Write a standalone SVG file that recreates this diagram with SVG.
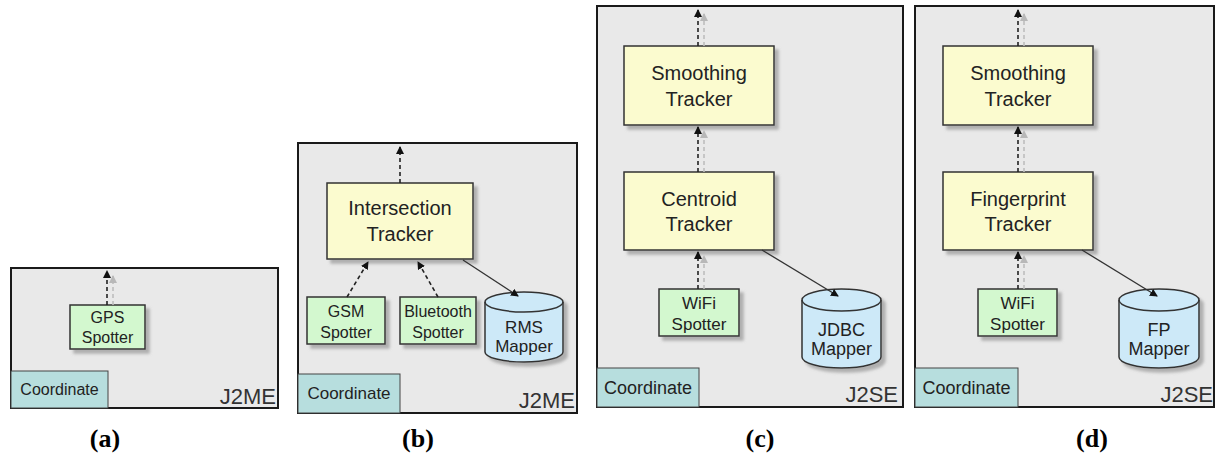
<svg xmlns="http://www.w3.org/2000/svg" width="1215" height="456" viewBox="0 0 1215 456">
<defs>
<filter id="sh" x="-10%" y="-10%" width="130%" height="140%">
<feDropShadow dx="4" dy="4" stdDeviation="1.5" flood-color="#888" flood-opacity="0.6"/>
</filter>
<marker id="ah" viewBox="0 0 8 8" markerWidth="8" markerHeight="8" refX="7" refY="4" orient="auto" markerUnits="userSpaceOnUse">
<path d="M0,0 L8,4 L0,8 z" fill="#111"/>
</marker>
<marker id="ahg" viewBox="0 0 8 8" markerWidth="8" markerHeight="8" refX="7" refY="4" orient="auto" markerUnits="userSpaceOnUse">
<path d="M0,0 L8,4 L0,8 z" fill="#b8b8b8"/>
</marker>
</defs>
<style>
.frame{fill:#e9e9e9;stroke:#1a1a1a;stroke-width:2}
.coord{fill:#b7dede;stroke:#444;stroke-width:1}
.trk{fill:#fbfbcf;stroke:#333;stroke-width:1.5;filter:url(#sh)}
.spt{fill:#d3f8cf;stroke:#333;stroke-width:1.5;filter:url(#sh)}
.map{fill:#cde9f8;stroke:#333;stroke-width:1.5;filter:url(#sh)}
.mapl{fill:none;stroke:#333;stroke-width:1.5}
text{font-family:"Liberation Sans",Arial,sans-serif;fill:#222;text-anchor:middle}
.t20{font-size:20px}
.t17{font-size:17px}
.t16{font-size:16px}
.t18{font-size:18px}
.plat{font-size:22px;text-anchor:end;fill:#333}
.cap{font-family:"Liberation Serif","Times New Roman",serif;font-weight:bold;font-size:26px;fill:#000}
.dash{stroke:#222;stroke-width:1.6;stroke-dasharray:4 3;fill:none;marker-end:url(#ah)}
.dashg{stroke:#bdbdbd;stroke-width:1.6;stroke-dasharray:4 3;fill:none;marker-end:url(#ahg)}
.solid{stroke:#333;stroke-width:1.3;fill:none;marker-end:url(#ah)}
</style>

<!-- Panel (a) -->
<g id="panel-a">
<rect class="frame" x="11" y="268" width="267" height="140"/>
<rect class="coord" x="11" y="371" width="97" height="37"/>
<text class="t16" x="59.5" y="395">Coordinate</text>
<text class="plat" x="276" y="404">J2ME</text>
</g>
<g id="gps-spotter">
<rect class="spt" x="70" y="305" width="75" height="44"/>
<text class="t16" x="107.5" y="323">GPS</text>
<text class="t16" x="107.5" y="343">Spotter</text>
</g>
<text class="cap" x="105" y="447">(a)</text>

<!-- Panel (b) -->
<g id="panel-b">
<rect class="frame" x="298" y="143" width="279" height="270"/>
<rect class="coord" x="298" y="374" width="102" height="39"/>
<text class="t17" x="349" y="399">Coordinate</text>
<text class="plat" x="575" y="408">J2ME</text>
</g>
<g id="intersection-tracker">
<rect class="trk" x="327" y="183" width="146" height="76"/>
<text class="t20" x="400" y="215">Intersection</text>
<text class="t20" x="400" y="241">Tracker</text>
</g>
<g id="gsm-spotter">
<rect class="spt" x="307" y="297" width="78" height="47"/>
<text class="t16" x="346" y="317">GSM</text>
<text class="t16" x="346" y="338">Spotter</text>
</g>
<g id="bluetooth-spotter">
<rect class="spt" x="400" y="297" width="76" height="47"/>
<text class="t16" x="438" y="317">Bluetooth</text>
<text class="t16" x="438" y="338">Spotter</text>
</g>
<g id="rms-mapper">
<path class="map" d="M485,302 a39,10 0 0,1 78,0 v50 a39,10 0 0,1 -78,0 z"/>
<path class="mapl" d="M485,302 a39,10 0 0,0 78,0"/>
<text class="t17" x="524" y="333">RMS</text>
<text class="t17" x="524" y="352">Mapper</text>
</g>
<text class="cap" x="418" y="447">(b)</text>

<!-- Panel (c) -->
<g id="panel-c">
<rect class="frame" x="597" y="6" width="306" height="401"/>
<rect class="coord" x="597" y="368" width="102" height="39"/>
<text class="t18" x="648" y="394">Coordinate</text>
<text class="plat" x="898" y="402">J2SE</text>
</g>
<g id="smoothing-tracker-c">
<rect class="trk" x="624" y="46" width="150" height="79"/>
<text class="t20" x="699" y="80">Smoothing</text>
<text class="t20" x="699" y="106">Tracker</text>
</g>
<g id="centroid-tracker">
<rect class="trk" x="624" y="172" width="150" height="78"/>
<text class="t20" x="699" y="206">Centroid</text>
<text class="t20" x="699" y="231">Tracker</text>
</g>
<g id="wifi-spotter-c">
<rect class="spt" x="659" y="289" width="80" height="47"/>
<text class="t17" x="699" y="309">WiFi</text>
<text class="t17" x="699" y="330">Spotter</text>
</g>
<g id="jdbc-mapper">
<path class="map" d="M802,300 a39.5,11 0 0,1 79,0 v57 a39.5,11 0 0,1 -79,0 z"/>
<path class="mapl" d="M802,300 a39.5,11 0 0,0 79,0"/>
<text class="t18" x="841.5" y="336">JDBC</text>
<text class="t18" x="841.5" y="355">Mapper</text>
</g>
<text class="cap" x="760" y="447">(c)</text>

<!-- Panel (d) -->
<g id="panel-d">
<rect class="frame" x="915" y="6" width="299" height="401"/>
<rect class="coord" x="915" y="368" width="103" height="39"/>
<text class="t18" x="966.5" y="394">Coordinate</text>
<text class="plat" x="1213" y="402">J2SE</text>
</g>
<g id="smoothing-tracker-d">
<rect class="trk" x="943" y="46" width="150" height="79"/>
<text class="t20" x="1018" y="80">Smoothing</text>
<text class="t20" x="1018" y="106">Tracker</text>
</g>
<g id="fingerprint-tracker">
<rect class="trk" x="943" y="172" width="150" height="78"/>
<text class="t20" x="1018" y="206">Fingerprint</text>
<text class="t20" x="1018" y="231">Tracker</text>
</g>
<g id="wifi-spotter-d">
<rect class="spt" x="978" y="289" width="79" height="47"/>
<text class="t17" x="1017.5" y="309">WiFi</text>
<text class="t17" x="1017.5" y="330">Spotter</text>
</g>
<g id="fp-mapper">
<path class="map" d="M1119,300 a40,11 0 0,1 80,0 v57 a40,11 0 0,1 -80,0 z"/>
<path class="mapl" d="M1119,300 a40,11 0 0,0 80,0"/>
<text class="t18" x="1159" y="336">FP</text>
<text class="t18" x="1159" y="355">Mapper</text>
</g>
<text class="cap" x="1092" y="447">(d)</text>

<!-- Connectors -->
<g id="connectors">
<line class="dashg" x1="113" y1="305" x2="113" y2="276"/>
<line class="dash" x1="107" y1="305" x2="107" y2="271"/>

<line class="dash" x1="400" y1="183" x2="400" y2="147"/>
<line class="dash" x1="347" y1="297" x2="368" y2="262"/>
<line class="dash" x1="438" y1="297" x2="418" y2="262"/>
<line class="solid" x1="463" y1="260" x2="518" y2="296"/>

<line class="dashg" x1="704" y1="46" x2="704" y2="14"/>
<line class="dash" x1="698" y1="46" x2="698" y2="10"/>
<line class="dashg" x1="704" y1="172" x2="704" y2="131"/>
<line class="dash" x1="698" y1="172" x2="698" y2="127"/>
<line class="dashg" x1="704" y1="289" x2="704" y2="256"/>
<line class="dash" x1="698" y1="289" x2="698" y2="252"/>
<line class="solid" x1="762" y1="250" x2="838" y2="296"/>

<line class="dashg" x1="1024" y1="46" x2="1024" y2="14"/>
<line class="dash" x1="1018" y1="46" x2="1018" y2="10"/>
<line class="dashg" x1="1024" y1="172" x2="1024" y2="131"/>
<line class="dash" x1="1018" y1="172" x2="1018" y2="127"/>
<line class="dashg" x1="1024" y1="289" x2="1024" y2="256"/>
<line class="dash" x1="1018" y1="289" x2="1018" y2="252"/>
<line class="solid" x1="1082" y1="250" x2="1157" y2="296"/>
</g>
</svg>
